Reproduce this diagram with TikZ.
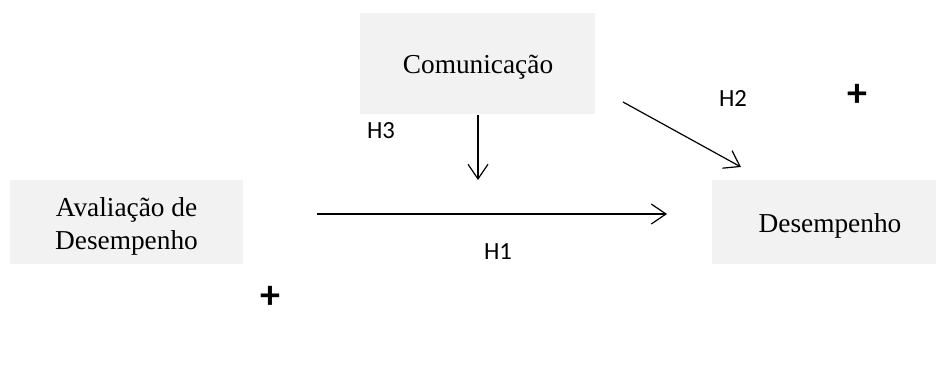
\documentclass[tikz,border=0pt]{standalone}
\usepackage{fontspec}
\setmainfont{Liberation Serif}
\newfontfamily\hfont{Carlito}
\usetikzlibrary{arrows.meta}
\begin{document}
\begin{tikzpicture}[x=0.75pt,y=-0.75pt,
  box/.style={fill=boxgray,draw=none,inner sep=0pt,font=\fontsize{20.5}{24.75}\selectfont,align=center},
  hlab/.style={font=\hfont\fontsize{18.5}{20}\selectfont,inner sep=0pt},
  plus/.style={font=\hfont\bfseries\fontsize{30}{30}\selectfont,inner sep=0pt},
  arr/.style={-{Straight Barb[length=11pt,width=15pt,line width=0.9pt]},line width=0.9pt}]
\definecolor{boxgray}{HTML}{F2F2F2}
\useasboundingbox (0,0) rectangle (936,380);
\node[box,minimum width=235*0.75pt,minimum height=101*0.75pt] (com) at (477.5,63.5) {};
\node[box,minimum width=233*0.75pt,minimum height=84*0.75pt] (ava) at (126.5,222) {};
\node[box,minimum width=224*0.75pt,minimum height=84*0.75pt] (des) at (824,222) {};
\node[box,fill=none] (comt) at (478,67) {Comunica\c{c}\~ao};
\node[box,fill=none] (avat) at (126.5,226) {Avalia\c{c}\~ao de\\Desempenho};
\node[box,fill=none] (dest) at (830,226) {Desempenho};
\coordinate (h3s) at (478,115);
\coordinate (h3e) at (478,180);
\coordinate (h1s) at (317,214);
\coordinate (h1e) at (667,214);
\coordinate (h2s) at (623,102);
\coordinate (h2e) at (741,167);
\draw[arr] (h3s) -- (h3e);
\draw[arr] (h1s) -- (h1e);
\draw[arr] (h2s) -- (h2e);
\node[hlab] (l3) at (381,131) {H3};
\node[hlab] (l1) at (498,252) {H1};
\node[hlab] (l2) at (733,98) {H2};
\node[plus] (p1) at (857,95) {+};
\node[plus] (p2) at (270,297) {+};
\end{tikzpicture}
\end{document}
